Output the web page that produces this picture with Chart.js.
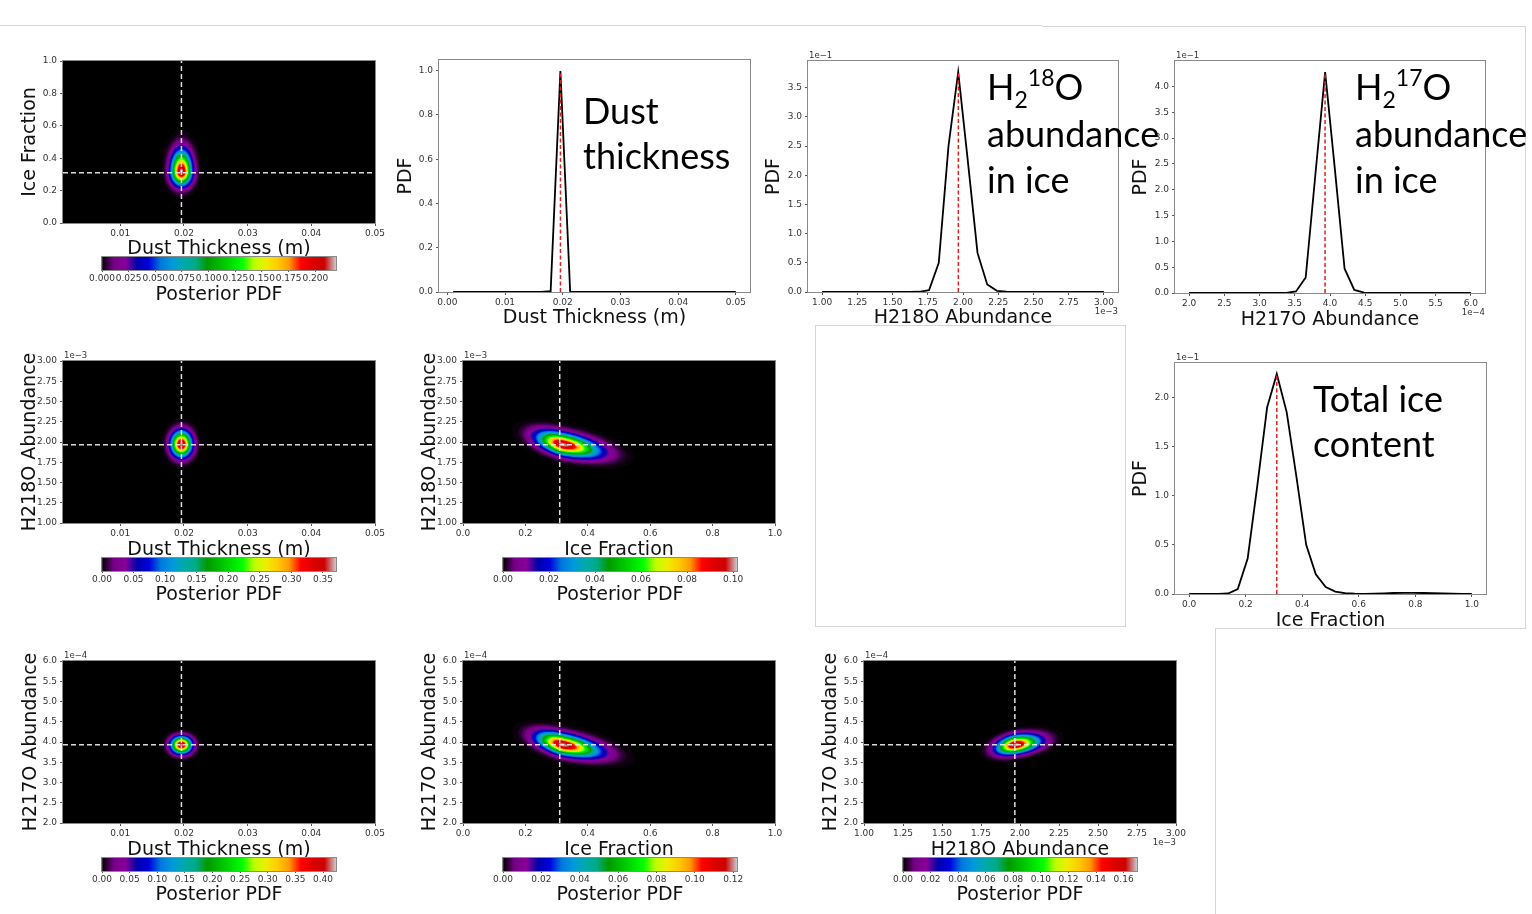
<!DOCTYPE html>
<html><head><meta charset="utf-8">
<script src="https://cdn.jsdelivr.net/npm/chart.js@4.4.1/dist/chart.umd.min.js"></script>
<style>
html,body{margin:0;padding:0;background:#fff;}
#stage{position:relative;width:1532px;height:914px;overflow:hidden;background:#fff;}
canvas{position:absolute;}
.ann{position:absolute;font-family:Lato,'Open Sans',sans-serif;font-size:36px;line-height:36px;color:#000;white-space:nowrap;z-index:5;}
.ann .sb{position:relative;font-size:23px;top:8px;}
.ann .sp{position:relative;font-size:23px;top:-14px;}
.deco{position:absolute;background:#d6d6d6;}
.box{position:absolute;border:1px solid #d6d6d6;}
</style></head><body><div id="stage"></div>
<script>
// ================= DATA =================
// 1-D posterior grids and PDF values (H218O in 1e-3, H217O in 1e-4, PDFs in 1e-1 units where noted)
const dustGrid = [0.00100,0.00269,0.00438,0.00607,0.00776,0.00945,0.01114,0.01283,0.01452,0.01621,0.01790,0.01959,0.02128,0.02297,0.02466,0.02634,0.02803,0.02972,0.03141,0.03310,0.03479,0.03648,0.03817,0.03986,0.04155,0.04324,0.04493,0.04662,0.04831,0.05000];
const dustPdf  = [0,0,0,0,0,0,0,0,0,0.001,0.004,0.998,0.002,0,0,0,0,0,0,0,0,0,0,0,0,0,0,0,0,0];
const h218oGrid = [1.000,1.069,1.138,1.207,1.276,1.345,1.414,1.483,1.552,1.621,1.690,1.759,1.828,1.897,1.966,2.034,2.103,2.172,2.241,2.310,2.379,2.448,2.517,2.586,2.655,2.724,2.793,2.862,2.931,3.000];
const h218oPdf  = [0,0,0,0,0,0,0,0,0,0.001,0.004,0.03,0.5,2.5,3.77,2.25,0.67,0.13,0.02,0.004,0,0,0,0,0,0,0,0,0,0];
const h217oGrid = [2.000,2.138,2.276,2.414,2.552,2.690,2.828,2.966,3.103,3.241,3.379,3.517,3.655,3.793,3.931,4.069,4.207,4.345,4.483,4.621,4.759,4.897,5.034,5.172,5.310,5.448,5.586,5.724,5.862,6.000];
const h217oPdf  = [0,0,0,0,0,0,0,0,0,0,0.003,0.03,0.3,2.3,4.28,2.4,0.47,0.06,0.008,0,0,0,0,0,0,0,0,0,0,0];
const iceGrid = [0.000,0.034,0.069,0.103,0.138,0.172,0.207,0.241,0.276,0.310,0.345,0.379,0.414,0.448,0.483,0.517,0.552,0.586,0.621,0.655,0.690,0.724,0.759,0.793,0.828,0.862,0.897,0.931,0.966,1.000];
const icePdf  = [0,0,0,0,0.005,0.05,0.36,1.1,1.9,2.237,1.85,1.2,0.5,0.2,0.07,0.025,0.008,0.003,0.002,0.003,0.006,0.01,0.012,0.012,0.01,0.008,0.005,0.003,0.002,0.001];

// best-fit values: dust (m), ice fraction, H218O (1e-3), H217O (1e-4)
const bestFit = [0.0196, 0.31, 1.967, 3.93];

// 2-D posterior blobs: [centreX, centreY, sigmaX-, sigmaX+, sigmaY-, sigmaY+, shearY]
const blobDustIce = [0.0196, 0.317, 0.001, 0.001, 0.052, 0.080, 0];
const blobDust18  = [0.0196, 1.972, 0.001, 0.001, 0.095, 0.100, 0];
const blobIce18   = [0.320, 1.968, 0.050, 0.071, 0.078, 0.084, -0.05];
const blobDust17  = [0.0196, 3.930, 0.001, 0.001, 0.130, 0.125, 0];
const blobIce17   = [0.320, 3.930, 0.050, 0.071, 0.150, 0.160, -0.10];
const blob18v17   = [1.970, 3.930, 0.073, 0.096, 0.130, 0.140, 0.05];
// colour-bar maxima (peak posterior) for the six 2-D panels
const cbMax = [0.2194, 0.3706, 0.1017, 0.4235, 0.1220, 0.1697];

// tick labels
const dustHeatTicks = [0.01,0.02,0.03,0.04,0.05];
const dustPdfTicks  = [0,0.01,0.02,0.03,0.04,0.05];
const iceTicks      = [0,0.2,0.4,0.6,0.8,1.0];
const h218oTicks    = [1.00,1.25,1.50,1.75,2.00,2.25,2.50,2.75,3.00];
const h217oTicks    = [2.0,2.5,3.0,3.5,4.0,4.5,5.0,5.5,6.0];
const pdfDustTicks  = [0,0.2,0.4,0.6,0.8,1.0];
const pdf18Ticks    = [0,0.5,1.0,1.5,2.0,2.5,3.0,3.5];
const pdf17Ticks    = [0,0.5,1.0,1.5,2.0,2.5,3.0,3.5,4.0];
const pdfIceTicks   = [0,0.5,1.0,1.5,2.0];
const cbTicks1 = [0,0.025,0.05,0.075,0.1,0.125,0.15,0.175,0.2];
const cbTicks2 = [0,0.05,0.1,0.15,0.2,0.25,0.3,0.35];
const cbTicks3 = [0,0.02,0.04,0.06,0.08,0.1];
const cbTicks4 = [0,0.05,0.1,0.15,0.2,0.25,0.3,0.35,0.4];
const cbTicks5 = [0,0.02,0.04,0.06,0.08,0.1,0.12];
const cbTicks6 = [0,0.02,0.04,0.06,0.08,0.1,0.12,0.14,0.16];

// ================= STYLE / HELPERS =================
const stage = document.getElementById('stage');
const FAM = "'DejaVu Sans', sans-serif";
const TICKF = {family: FAM, size: 9};
const TITLEF = {family: FAM, size: 19};
const LH = 19 * 1.2;
const MINUS = '\u2212';

const NS = [[0,0,0],[0.4667,0,0.5333],[0.5333,0,0.6],[0,0,0.6667],[0,0,0.8667],[0,0.4667,0.8667],[0,0.6,0.8667],[0,0.6667,0.6667],[0,0.6667,0.5333],[0,0.6,0],[0,0.7333,0],[0,0.8667,0],[0,1,0],[0.7333,1,0],[0.9333,0.9333,0],[1,0.8,0],[1,0.6,0],[1,0,0],[0.8667,0,0],[0.8,0,0],[0.8,0.8,0.8]];
function cmap(t){
  t = Math.min(1, Math.max(0, t));
  const f = t * 20, i = Math.min(19, Math.floor(f)), w = f - i;
  const a = NS[i], b = NS[i+1];
  const c = k => Math.round(255 * (a[k] + (b[k]-a[k]) * w));
  return `rgb(${c(0)},${c(1)},${c(2)})`;
}

function addCanvas(x, y, w, h){
  const c = document.createElement('canvas');
  c.width = w; c.height = h;
  c.style.left = x + 'px'; c.style.top = y + 'px';
  c.style.width = w + 'px'; c.style.height = h + 'px';
  stage.appendChild(c);
  return c;
}

const framePlugin = {
  id: 'frame',
  afterDatasetsDraw(chart, args, o){
    const {ctx, chartArea: a} = chart;
    ctx.save();
    ctx.strokeStyle = '#8a8a8a'; ctx.lineWidth = 1;
    ctx.strokeRect(Math.round(a.left) - 0.5, Math.round(a.top) - 0.5, Math.round(a.width) + 1, Math.round(a.height) + 1);
    ctx.restore();
  }
};
const offsetPlugin = {
  id: 'offsetText',
  afterDraw(chart, args, o){
    const {ctx, chartArea: a} = chart;
    ctx.save();
    ctx.font = "8.5px 'DejaVu Sans'"; ctx.fillStyle = '#333'; ctx.textBaseline = 'middle';
    if (o.tl){ ctx.textAlign = 'left'; ctx.fillText(o.tl, a.left + 1, a.top - 5); }
    if (o.br){ ctx.textAlign = 'right'; ctx.fillText(o.br, a.right, a.bottom + 20); }
    ctx.restore();
  }
};
const heatPlugin = {
  id: 'heat',
  beforeDatasetsDraw(chart, args, o){
    if (!o.blob) return;
    const {ctx, chartArea: a, scales: {x, y}} = chart;
    ctx.save();
    ctx.beginPath(); ctx.rect(a.left, a.top, a.width, a.height); ctx.clip();
    ctx.fillStyle = '#000'; ctx.fillRect(a.left, a.top, a.width, a.height);
    const [cx, cy, axm, axp, bym, byp, sh] = o.blob;
    const N = 90;
    for (let i = 0; i < N; i++){
      const t = 0.005 + 0.995 * i / N;
      const r = Math.sqrt(-2 * Math.log(t));
      ctx.beginPath();
      for (let k = 0; k <= 96; k++){
        const th = k / 96 * 2 * Math.PI;
        const u = r * Math.cos(th), v = r * Math.sin(th);
        const px = x.getPixelForValue(cx + (u < 0 ? axm : axp) * u);
        const py = y.getPixelForValue(cy + (v < 0 ? bym : byp) * v + sh * u);
        if (k) ctx.lineTo(px, py); else ctx.moveTo(px, py);
      }
      ctx.closePath();
      ctx.fillStyle = cmap(t);
      ctx.fill();
    }
    ctx.restore();
  }
};

function axis(pos, min, max, ticksArr, dec, title, sizeFn, titlePad){
  return {
    type: 'linear', position: pos, min: min, max: max,
    afterFit: sizeFn,
    afterBuildTicks: s => { s.ticks = ticksArr.map(v => ({value: v})); },
    ticks: {font: TICKF, color: '#333', padding: pos === 'left' ? 3 : 2, maxRotation: 0, autoSkip: false,
            callback: v => Number(v).toFixed(dec)},
    grid: {display: true, drawOnChartArea: false, drawTicks: true, tickLength: 3, color: '#555'},
    border: {display: false},
    title: {display: !!title, text: title, font: TITLEF, color: '#111', padding: titlePad}
  };
}

function buildPanel(p){
  const [L, T, R, B] = p.plot;
  const cL = L - 80, cT = T - 20, cR = R + 40;
  const cB = Math.max(p.xTitleY + 14, B + 30);
  const canvas = addCanvas(cL, cT, cR - cL, cB - cT);
  const datasets = [];
  if (p.heat){
    const dash = {showLine: true, borderColor: 'rgba(232,232,232,0.95)', borderWidth: 1.5, borderDash: [5, 3], pointRadius: 0};
    datasets.push(Object.assign({data: [{x: p.bx, y: p.yr[0]}, {x: p.bx, y: p.yr[1]}]}, dash));
    datasets.push(Object.assign({data: [{x: p.xr[0], y: p.by}, {x: p.xr[1], y: p.by}]}, dash));
  } else {
    const peak = Math.max(...p.pdf);
    datasets.push({data: [{x: p.best, y: 0}, {x: p.best, y: peak}], showLine: true, borderColor: '#e0201c', borderWidth: 1.5, borderDash: [4, 2.5], pointRadius: 0});
    datasets.push({data: p.grid.map((g, i) => ({x: g, y: p.pdf[i]})), showLine: true, borderColor: '#000', borderWidth: 1.8, pointRadius: 0, tension: 0});
  }
  new Chart(canvas, {
    type: 'scatter',
    data: {datasets},
    options: {
      responsive: false, animation: false, devicePixelRatio: 1,
      layout: {padding: {left: 0, top: T - cT, right: cR - R, bottom: 0}},
      plugins: {legend: {display: false}, tooltip: {enabled: false},
                heat: {blob: p.blob || null}, offsetText: {tl: p.tl, br: p.br}},
      scales: {
        x: axis('bottom', p.xr[0], p.xr[1], p.xt, p.xd, p.xTitle, s => { s.height = cB - B; },
                {top: 0, bottom: cB - p.xTitleY - LH / 2}),
        y: axis('left', p.yr[0], p.yr[1], p.yt, p.yd, p.yTitle, s => { s.width = L - cL; },
                {top: p.yTitleX - cL - LH / 2, bottom: 0})
      }
    },
    plugins: [heatPlugin, framePlugin, offsetPlugin]
  });
}

function buildColorbar(c){
  const [L, T, R, B] = c.rect;
  const cL = L - 30, cR = R + 30, cT = T - 2, cB = c.titleY + 14;
  const canvas = addCanvas(cL, cT, cR - cL, cB - cT);
  const xAxis = axis('bottom', 0, c.max, c.ticks, c.dec, 'Posterior PDF', s => { s.height = cB - B; },
               {top: 0, bottom: cB - c.titleY - LH / 2});
  xAxis.grid.tickLength = 2;
  xAxis.ticks.padding = 1;
  new Chart(canvas, {
    type: 'bar',
    data: {labels: [''], datasets: [{data: [c.max], barPercentage: 1, categoryPercentage: 1, borderWidth: 0,
      backgroundColor: ctx => {
        const a = ctx.chart.chartArea; if (!a) return '#000';
        const g = ctx.chart.ctx.createLinearGradient(a.left, 0, a.right, 0);
        NS.forEach((s, i) => g.addColorStop(i / 20, `rgb(${Math.round(s[0]*255)},${Math.round(s[1]*255)},${Math.round(s[2]*255)})`));
        return g;
      }}]},
    options: {
      indexAxis: 'y', responsive: false, animation: false, devicePixelRatio: 1,
      layout: {padding: {left: L - cL, right: cR - R, top: T - cT, bottom: 0}},
      plugins: {legend: {display: false}, tooltip: {enabled: false}},
      scales: {x: xAxis, y: {display: false}}
    },
    plugins: [framePlugin]
  });
}

// ================= PANELS =================
const dustHeatRange = [0.001, 0.05];
const iceRange = [0, 1];
const h218oRange = [1, 3];
const h217oRange = [2, 6];
const pad = (g) => { const a = g[0], b = g[g.length - 1], d = (b - a) * 0.05; return [a - d, b + d]; };

// row 1
buildPanel({heat: true, plot: [63, 61, 375, 223], xr: dustHeatRange, yr: iceRange, xt: dustHeatTicks, yt: iceTicks, xd: 2, yd: 1,
  xTitle: 'Dust Thickness (m)', yTitle: 'Ice Fraction', xTitleY: 249, yTitleX: 30, bx: bestFit[0], by: bestFit[1], blob: blobDustIce});
buildColorbar({rect: [102, 257, 336, 270], max: cbMax[0], ticks: cbTicks1, dec: 3, titleY: 295});

buildPanel({plot: [439, 60, 750, 292], xr: pad(dustGrid), yr: [0, Math.max(...dustPdf) * 1.05], xt: dustPdfTicks, yt: pdfDustTicks, xd: 2, yd: 1,
  xTitle: 'Dust Thickness (m)', yTitle: 'PDF', xTitleY: 318, yTitleX: 406, grid: dustGrid, pdf: dustPdf, best: bestFit[0]});
buildPanel({plot: [808, 61, 1118, 292], xr: pad(h218oGrid), yr: [0, Math.max(...h218oPdf) * 1.05], xt: h218oTicks, yt: pdf18Ticks, xd: 2, yd: 1,
  xTitle: 'H218O Abundance', yTitle: 'PDF', xTitleY: 318, yTitleX: 774, grid: h218oGrid, pdf: h218oPdf, best: bestFit[2],
  tl: '1e' + MINUS + '1', br: '1e' + MINUS + '3'});
buildPanel({plot: [1175, 61, 1485, 293], xr: pad(h217oGrid), yr: [0, Math.max(...h217oPdf) * 1.05], xt: h217oTicks, yt: pdf17Ticks, xd: 1, yd: 1,
  xTitle: 'H217O Abundance', yTitle: 'PDF', xTitleY: 320, yTitleX: 1141, grid: h217oGrid, pdf: h217oPdf, best: bestFit[3],
  tl: '1e' + MINUS + '1', br: '1e' + MINUS + '4'});

// row 2
buildPanel({heat: true, plot: [63, 361, 375, 523], xr: dustHeatRange, yr: h218oRange, xt: dustHeatTicks, yt: h218oTicks, xd: 2, yd: 2,
  xTitle: 'Dust Thickness (m)', yTitle: 'H218O Abundance', xTitleY: 550, yTitleX: 30, bx: bestFit[0], by: bestFit[2], blob: blobDust18, tl: '1e' + MINUS + '3'});
buildColorbar({rect: [102, 558, 336, 571], max: cbMax[1], ticks: cbTicks2, dec: 2, titleY: 595});
buildPanel({heat: true, plot: [463, 361, 775, 523], xr: iceRange, yr: h218oRange, xt: iceTicks, yt: h218oTicks, xd: 1, yd: 2,
  xTitle: 'Ice Fraction', yTitle: 'H218O Abundance', xTitleY: 550, yTitleX: 430, bx: bestFit[1], by: bestFit[2], blob: blobIce18, tl: '1e' + MINUS + '3'});
buildColorbar({rect: [503, 558, 737, 571], max: cbMax[2], ticks: cbTicks3, dec: 2, titleY: 595});
buildPanel({plot: [1175, 363, 1486, 594], xr: pad(iceGrid), yr: [0, Math.max(...icePdf) * 1.05], xt: iceTicks, yt: pdfIceTicks, xd: 1, yd: 1,
  xTitle: 'Ice Fraction', yTitle: 'PDF', xTitleY: 621, yTitleX: 1141, grid: iceGrid, pdf: icePdf, best: bestFit[1], tl: '1e' + MINUS + '1'});

// row 3
buildPanel({heat: true, plot: [63, 661, 375, 823], xr: dustHeatRange, yr: h217oRange, xt: dustHeatTicks, yt: h217oTicks, xd: 2, yd: 1,
  xTitle: 'Dust Thickness (m)', yTitle: 'H217O Abundance', xTitleY: 850, yTitleX: 31, bx: bestFit[0], by: bestFit[3], blob: blobDust17, tl: '1e' + MINUS + '4'});
buildColorbar({rect: [102, 858, 336, 871], max: cbMax[3], ticks: cbTicks4, dec: 2, titleY: 895});
buildPanel({heat: true, plot: [463, 661, 775, 823], xr: iceRange, yr: h217oRange, xt: iceTicks, yt: h217oTicks, xd: 1, yd: 1,
  xTitle: 'Ice Fraction', yTitle: 'H217O Abundance', xTitleY: 850, yTitleX: 430, bx: bestFit[1], by: bestFit[3], blob: blobIce17, tl: '1e' + MINUS + '4'});
buildColorbar({rect: [503, 858, 737, 871], max: cbMax[4], ticks: cbTicks5, dec: 2, titleY: 895});
buildPanel({heat: true, plot: [864, 661, 1176, 823], xr: h218oRange, yr: h217oRange, xt: h218oTicks, yt: h217oTicks, xd: 2, yd: 1,
  xTitle: 'H218O Abundance', yTitle: 'H217O Abundance', xTitleY: 850, yTitleX: 831, bx: bestFit[2], by: bestFit[3], blob: blob18v17,
  tl: '1e' + MINUS + '4', br: '1e' + MINUS + '3'});
buildColorbar({rect: [903, 858, 1137, 871], max: cbMax[5], ticks: cbTicks6, dec: 2, titleY: 895});

// ================= DECORATION & ANNOTATIONS =================
function deco(x, y, w, h){ const d = document.createElement('div'); d.className = 'deco';
  Object.assign(d.style, {left: x + 'px', top: y + 'px', width: w + 'px', height: h + 'px'}); stage.appendChild(d); }
deco(0, 25, 1042, 1); deco(1042, 26, 484, 1); deco(1525, 26, 1, 602); deco(1215, 628, 311, 1); deco(1215, 628, 1, 286);
const bx = document.createElement('div'); bx.className = 'box';
Object.assign(bx.style, {left: '815px', top: '325px', width: '309px', height: '300px'}); stage.appendChild(bx);

function ann(x, baseline, html){ const d = document.createElement('div'); d.className = 'ann';
  d.style.left = x + 'px'; d.style.top = (baseline - 32) + 'px'; d.innerHTML = html; stage.appendChild(d); }
ann(583, 124, 'Dust'); ann(583, 169, 'thickness');
ann(987, 100, 'H<span class="sb">2</span><span class="sp">18</span>O'); ann(987, 147, 'abundance'); ann(987, 193, 'in ice');
ann(1355, 100, 'H<span class="sb">2</span><span class="sp">17</span>O'); ann(1355, 147, 'abundance'); ann(1355, 193, 'in ice');
ann(1313, 412, 'Total ice'); ann(1313, 457, 'content');
</script>
</body></html>
